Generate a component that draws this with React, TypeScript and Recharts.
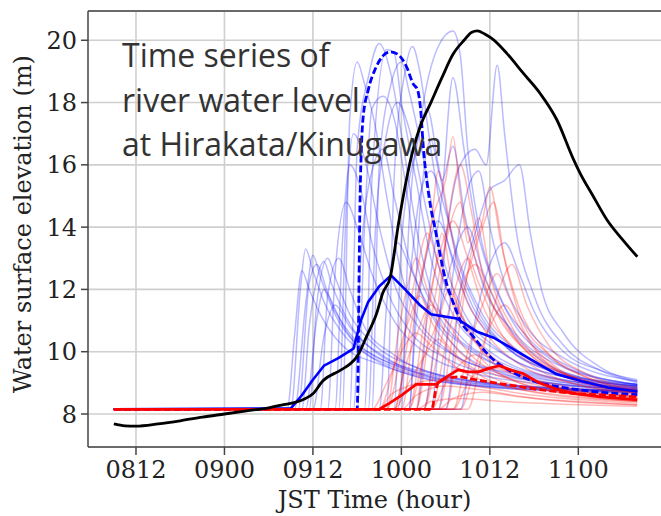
import React from 'react';
import { LineChart, Line, XAxis, YAxis, CartesianGrid, ReferenceLine } from 'recharts';

type Pt = [number, number];

// hours counted from 08 00:00 JST
const timeTicks = [12, 24, 36, 48, 60, 72];
const timeLabels = ['0812', '0900', '0912', '1000', '1012', '1100'];
const levelTicks = [8, 10, 12, 14, 16, 18, 20];

const observed: Pt[] = [
  [9, 7.68], [10.5, 7.62], [12, 7.61], [15, 7.68], [18, 7.78], [21, 7.9], [24, 8.0], [27, 8.1],
  [30, 8.2], [32, 8.3], [34, 8.4], [35, 8.5], [36, 8.65], [37.3, 9.05], [39.7, 9.4], [41, 9.6],
  [42, 9.85], [43.3, 10.5], [44.6, 11.2], [45.5, 11.9], [46.5, 12.4], [47.6, 14.1], [49.6, 16.5],
  [50.5, 17.2], [52, 18.0], [53.5, 18.8], [55, 19.55], [56.5, 20.0], [57.5, 20.25], [58.3, 20.3],
  [59.3, 20.2], [60.3, 20.05], [62.3, 19.58], [64.5, 18.95], [66.8, 18.3], [69.1, 17.44],
  [71.3, 16.2], [72.2, 15.75], [74, 15.0], [75.9, 14.23], [78, 13.6], [80, 13.05],
];

const blueMean: Pt[] = [
  [9, 8.15], [33, 8.18], [34.5, 8.6], [36, 9.1], [37.5, 9.55], [39.5, 9.8], [41.5, 10.1],
  [42.5, 11.0], [43.5, 11.6], [45, 12.1], [46.6, 12.45], [48.5, 12.0], [50.5, 11.5], [52, 11.2],
  [55.5, 11.07], [58.2, 10.65], [60.5, 10.45], [62.5, 10.18], [64.5, 9.9], [67, 9.55],
  [69, 9.28], [72.5, 9.05], [76, 8.85], [80, 8.72],
];

const blueDashed: Pt[] = [
  [9, 8.15], [42, 8.15], [42.4, 15.0], [42.8, 17.5], [43.5, 18.4], [44.5, 19.1], [45.5, 19.5],
  [46.5, 19.63], [47.5, 19.55], [48.7, 19.15], [49.6, 18.6], [50.2, 18.4], [50.6, 17.8],
  [51, 16.5], [51.8, 14.9], [52.7, 13.8], [54, 12.3], [55, 11.6], [56, 11.0], [57.7, 10.5],
  [60, 9.85], [63, 9.35], [66, 9.05], [70, 8.85], [75, 8.7], [80, 8.62],
];

const redMean: Pt[] = [
  [9, 8.15], [45, 8.15], [46.4, 8.35], [48, 8.6], [50, 8.95], [52.7, 8.95], [53.6, 9.1],
  [54.5, 9.25], [55.7, 9.42], [57, 9.35], [58.5, 9.35], [60, 9.47], [61.3, 9.55], [63, 9.4],
  [64.5, 9.3], [66.7, 9.0], [69, 8.8], [71.3, 8.66], [75, 8.55], [80, 8.45],
];

const redDashed: Pt[] = [
  [9, 8.15], [52.2, 8.15], [52.6, 8.7], [53, 9.05], [54, 9.15], [56, 9.2], [58, 9.1],
  [62, 8.95], [66.7, 8.78], [72, 8.65], [80, 8.55],
];

const blueMembers: Pt[][] = [
  [[9, 8.15], [33, 8.15], [34.3, 12.0], [35, 13.3], [36, 12.6], [37.5, 11.6], [40, 10.6], [44, 9.8], [50, 9.2], [58, 8.9], [68, 8.75], [80, 8.68]],
  [[9, 8.15], [33.5, 8.15], [35, 11.5], [36, 13.1], [37, 12.4], [39, 11.2], [42, 10.2], [47, 9.5], [54, 9.05], [64, 8.8], [80, 8.7]],
  [[9, 8.15], [34, 8.15], [35.5, 12.2], [36.5, 12.8], [38, 11.9], [41, 10.5], [45, 9.8], [52, 9.2], [62, 8.9], [80, 8.72]],
  [[9, 8.15], [35, 8.15], [36.5, 11.0], [37.5, 12.0], [39, 11.3], [42, 10.3], [48, 9.5], [56, 9.0], [68, 8.8], [80, 8.73]],
  [[9, 8.15], [36, 8.15], [37.5, 10.5], [39, 11.5], [41, 10.8], [45, 9.9], [52, 9.3], [62, 8.95], [80, 8.75]],
  [[9, 8.15], [32.5, 8.15], [33.5, 10.5], [34.5, 12.6], [35.5, 12.0], [37, 11.2], [40, 10.2], [45, 9.6], [52, 9.1], [62, 8.85], [80, 8.7]],
  [[9, 8.15], [34.5, 8.15], [35.5, 10.8], [36.5, 12.3], [37.5, 12.9], [38.5, 12.2], [41, 10.9], [46, 9.8], [54, 9.15], [66, 8.85], [80, 8.74]],
  [[9, 8.15], [35.5, 8.15], [36.5, 11.5], [38, 13.0], [39, 12.4], [41, 11.2], [44, 10.3], [50, 9.5], [58, 9.05], [70, 8.82], [80, 8.76]],
  [[9, 8.15], [37, 8.15], [38, 11.8], [39.5, 13.0], [41, 12.0], [43, 10.8], [47, 9.9], [54, 9.2], [64, 8.9], [80, 8.74]],
  [[9, 8.15], [38, 8.15], [39, 12.5], [40.5, 14.8], [42, 14.0], [44, 12.5], [47, 11.0], [51, 10.0], [58, 9.3], [68, 8.95], [80, 8.78]],
  [[9, 8.15], [39, 8.15], [40, 13.5], [41, 16.0], [42.5, 15.2], [44, 13.5], [46, 12.0], [49, 10.7], [54, 9.8], [62, 9.2], [80, 8.8]],
  [[9, 8.15], [39.5, 8.15], [40.5, 14.5], [41.5, 17.0], [43, 16.2], [45, 14.0], [47, 12.2], [50, 10.9], [55, 9.9], [63, 9.3], [80, 8.82]],
  [[9, 8.15], [40, 8.15], [41, 17.5], [42, 19.3], [43, 18.6], [44.5, 17.2], [46, 15.0], [48, 12.5], [50, 11.2], [54, 10.1], [60, 9.4], [68, 9.0], [80, 8.78]],
  [[9, 8.15], [41, 8.15], [42, 16.5], [43.5, 18.8], [45, 19.9], [46.5, 19.0], [48, 17.0], [50, 14.0], [52, 12.0], [56, 10.5], [62, 9.6], [70, 9.1], [80, 8.85]],
  [[9, 8.15], [41.5, 8.15], [42.5, 13.0], [44, 15.8], [45.5, 16.5], [47, 15.0], [49, 13.0], [52, 11.3], [57, 10.1], [65, 9.3], [80, 8.85]],
  [[9, 8.15], [42, 8.15], [43, 14.0], [44, 17.8], [45.5, 18.2], [47, 17.5], [48.5, 15.5], [50, 13.0], [53, 11.2], [58, 10.0], [66, 9.2], [80, 8.8]],
  [[9, 8.15], [43, 8.15], [44, 15.5], [46, 19.7], [47, 19.6], [48, 18.0], [50, 15.5], [52, 13.0], [55, 11.2], [60, 10.0], [68, 9.2], [80, 8.85]],
  [[9, 8.15], [43.5, 8.15], [44.5, 14.0], [46, 17.0], [47.5, 18.0], [49, 17.2], [51, 15.0], [53, 12.8], [56, 11.2], [62, 9.9], [72, 9.1], [80, 8.9]],
  [[9, 8.15], [44, 8.15], [45, 16.0], [46.5, 18.5], [48, 19.3], [49, 18.4], [51, 16.2], [53, 13.6], [56, 11.5], [61, 10.1], [70, 9.2], [80, 8.9]],
  [[9, 8.15], [45, 8.15], [46, 11.5], [47.5, 13.5], [49, 12.8], [52, 11.2], [56, 10.0], [62, 9.3], [70, 8.95], [80, 8.8]],
  [[9, 8.15], [46, 8.15], [47, 15.5], [48.5, 19.0], [49.5, 19.8], [50.5, 19.0], [52, 16.5], [54, 13.8], [57, 11.6], [62, 10.2], [70, 9.3], [80, 8.9]],
  [[9, 8.15], [47, 8.15], [48, 13.5], [50, 16.5], [51.5, 17.8], [53, 16.0], [55, 13.5], [58, 11.5], [62, 10.2], [68, 9.4], [80, 8.9]],
  [[9, 8.15], [47.5, 8.15], [49, 12.0], [50.5, 15.0], [52, 15.8], [54, 14.5], [56, 12.8], [59, 11.2], [64, 10.0], [72, 9.2], [80, 8.95]],
  [[9, 8.15], [48, 8.15], [49, 14.0], [51, 18.0], [53, 19.8], [55, 20.3], [56, 19.5], [57, 16.5], [58.5, 14.0], [61, 12.0], [65, 10.5], [71, 9.5], [80, 8.95]],
  [[9, 8.15], [49, 8.15], [50, 11.0], [51.5, 13.2], [53, 14.2], [55, 13.0], [58, 11.3], [62, 10.2], [68, 9.4], [80, 8.95]],
  [[9, 8.15], [49, 8.15], [50.5, 14.5], [52, 16.8], [53.5, 15.5], [55, 16.6], [56.5, 14.5], [59, 12.2], [63, 10.7], [69, 9.6], [80, 8.95]],
  [[9, 8.15], [50, 8.15], [52, 12.5], [53.5, 15.0], [55, 18.8], [56.5, 16.5], [58, 14.2], [60, 12.5], [63, 11.0], [68, 9.8], [74, 9.2], [80, 8.95]],
  [[9, 8.15], [51, 8.15], [53, 11.0], [55, 13.0], [57, 14.0], [59, 12.6], [62, 11.0], [66, 9.9], [72, 9.2], [80, 8.9]],
  [[9, 8.15], [52, 8.15], [54, 13.5], [56, 16.0], [58, 16.5], [59.5, 16.0], [61, 19.2], [62, 17.0], [63.5, 14.0], [66, 11.8], [70, 10.2], [75, 9.4], [80, 9.0]],
  [[9, 8.15], [53, 8.15], [55, 12.5], [57, 15.2], [58.5, 15.8], [60, 14.0], [62, 12.2], [65, 10.8], [70, 9.8], [80, 9.05]],
  [[9, 8.15], [54, 8.15], [56, 12.0], [58, 13.8], [60, 15.2], [62, 15.5], [64, 16.0], [65.5, 13.8], [67, 12.0], [70, 10.6], [75, 9.5], [80, 9.05]],
  [[9, 8.15], [56, 8.15], [58, 11.0], [60, 12.8], [62, 13.5], [64, 12.5], [66, 11.3], [70, 10.0], [75, 9.4], [80, 9.1]],
];

const redMembers: Pt[][] = [
  [[9, 8.15], [44, 8.15], [46, 9.0], [48, 10.0], [50, 10.6], [52, 10.2], [56, 9.4], [62, 8.9], [72, 8.55], [80, 8.4]],
  [[9, 8.15], [45, 8.15], [47, 9.5], [49, 11.0], [50.5, 11.8], [52, 11.0], [55, 10.0], [60, 9.2], [68, 8.75], [80, 8.5]],
  [[9, 8.15], [45, 8.15], [46.5, 8.6], [49, 8.9], [53, 9.1], [58, 8.9], [66, 8.6], [80, 8.35]],
  [[9, 8.15], [46, 8.15], [48, 10.0], [50, 12.5], [51.5, 13.8], [53, 12.8], [55, 11.5], [58, 10.3], [63, 9.4], [70, 8.9], [80, 8.6]],
  [[9, 8.15], [46, 8.15], [47.5, 10.5], [49, 12.3], [50, 13.0], [51.5, 12.0], [54, 10.6], [58, 9.6], [65, 9.0], [80, 8.55]],
  [[9, 8.15], [47, 8.15], [49, 10.5], [51, 12.8], [52.5, 14.5], [54, 15.5], [55, 16.9], [56, 15.0], [58, 13.0], [61, 11.2], [65, 10.0], [71, 9.2], [80, 8.75]],
  [[9, 8.15], [47, 8.15], [49, 9.0], [51, 9.8], [53, 10.4], [55, 9.9], [59, 9.2], [66, 8.7], [80, 8.4]],
  [[9, 8.15], [47, 8.15], [48.5, 9.5], [50, 10.5], [52, 11.5], [54, 11.0], [57, 10.0], [62, 9.2], [70, 8.7], [80, 8.5]],
  [[9, 8.15], [48, 8.15], [50, 11.5], [52, 14.0], [53, 15.8], [54.5, 14.2], [56, 12.3], [59, 10.8], [64, 9.6], [71, 9.0], [80, 8.65]],
  [[9, 8.15], [48, 8.15], [50, 8.6], [54, 8.9], [58, 8.8], [66, 8.5], [80, 8.3]],
  [[9, 8.15], [49, 8.15], [51, 9.8], [53, 11.0], [54.5, 12.0], [56, 11.2], [59, 10.0], [64, 9.2], [72, 8.75], [80, 8.55]],
  [[9, 8.15], [49, 8.15], [51, 10.8], [53, 13.0], [55, 14.2], [57, 13.0], [59, 11.5], [63, 10.2], [69, 9.3], [80, 8.7]],
  [[9, 8.15], [50, 8.15], [51, 10.2], [52.5, 12.5], [53.5, 13.8], [55, 12.0], [57, 10.8], [61, 9.7], [67, 9.0], [80, 8.55]],
  [[9, 8.15], [50, 8.15], [52, 11.0], [54, 13.5], [56, 14.8], [57, 13.5], [58.5, 14.3], [60, 12.5], [63, 10.8], [68, 9.6], [74, 9.0], [80, 8.7]],
  [[9, 8.15], [50, 8.15], [52, 8.4], [56, 8.5], [62, 8.4], [80, 8.25]],
  [[9, 8.15], [51, 8.15], [53, 10.0], [55, 11.8], [57, 13.0], [58.5, 12.2], [61, 10.8], [65, 9.7], [71, 9.0], [80, 8.65]],
  [[9, 8.15], [51, 8.15], [53, 11.5], [54.5, 14.5], [56, 16.0], [57.5, 14.5], [59, 12.5], [62, 10.9], [67, 9.7], [74, 9.0], [80, 8.75]],
  [[9, 8.15], [52, 8.15], [54, 9.0], [56, 9.6], [58, 9.9], [60, 9.5], [64, 9.0], [72, 8.6], [80, 8.4]],
  [[9, 8.15], [52, 8.15], [54, 10.2], [56, 12.0], [58, 12.8], [60, 12.0], [63, 10.6], [67, 9.6], [74, 8.95], [80, 8.7]],
  [[9, 8.15], [53, 8.15], [55, 10.5], [57, 12.5], [59, 14.0], [60.5, 14.8], [62, 13.0], [64, 11.4], [67, 10.2], [72, 9.3], [80, 8.8]],
  [[9, 8.15], [53, 8.15], [55, 8.5], [59, 8.7], [64, 8.55], [80, 8.3]],
  [[9, 8.15], [54, 8.15], [56, 11.0], [57.5, 13.2], [59, 14.2], [60, 15.3], [61.5, 13.5], [64, 11.2], [68, 9.9], [74, 9.1], [80, 8.75]],
  [[9, 8.15], [55, 8.15], [57, 10.0], [59, 11.5], [61, 12.5], [62.5, 11.8], [65, 10.5], [69, 9.5], [75, 8.9], [80, 8.7]],
  [[9, 8.15], [55, 8.15], [57, 9.0], [60, 9.5], [63, 9.3], [70, 8.8], [80, 8.5]],
  [[9, 8.15], [56, 8.15], [58, 9.5], [60, 10.8], [62, 11.5], [64, 10.8], [67, 9.8], [72, 9.1], [80, 8.7]],
  [[9, 8.15], [57, 8.15], [59, 10.0], [61, 11.8], [63, 12.8], [65, 11.5], [68, 10.2], [73, 9.3], [80, 8.85]],
];

const toRows = (pts: Pt[]) => pts.map(([t, v]) => ({ t, v }));

const serif = 'DejaVu Serif';
const spine = '#444';
const gridColor = '#cfcfcf';

export default function App() {
  return (
    <div style={{ position: 'absolute', left: 0, top: 0, width: 661, height: 516, background: '#fff', overflow: 'hidden' }}>
      <LineChart width={661} height={516} margin={{ top: 11, right: -20, bottom: 19, left: 0 }}>
        <CartesianGrid stroke={gridColor} strokeWidth={1.6} vertical={false} />
        {timeTicks.map((t) => (
          <ReferenceLine key={`g${t}`} x={t} stroke={gridColor} strokeWidth={1.6} />
        ))}
        <XAxis
          type="number"
          dataKey="t"
          domain={[5.49, 85.93]}
          allowDataOverflow
          ticks={timeTicks}
          tickFormatter={(t: number) => timeLabels[timeTicks.indexOf(t)] ?? ''}
          height={50}
          tickSize={8}
          tickMargin={6}
          tick={{ fontFamily: serif, fontSize: 24, fill: '#222' }}
          axisLine={{ stroke: spine, strokeWidth: 1.5 }}
          tickLine={{ stroke: spine, strokeWidth: 1.5 }}
          label={{
            content: () => (
              <text x={374.5} y={508} textAnchor="middle" fontFamily={serif} fontSize={24} fill="#222">
                JST Time (hour)
              </text>
            ),
          }}
        />
        <YAxis
          type="number"
          domain={[6.94, 20.94]}
          allowDataOverflow
          ticks={levelTicks}
          width={88}
          tickSize={7}
          tickMargin={4}
          tick={{ fontFamily: serif, fontSize: 24, fill: '#222' }}
          axisLine={{ stroke: spine, strokeWidth: 1.5 }}
          tickLine={{ stroke: spine, strokeWidth: 1.5 }}
          label={{
            content: () => (
              <text
                x={31}
                y={224}
                transform="rotate(-90 31 224)"
                textAnchor="middle"
                fontFamily={serif}
                fontSize={24}
                fill="#222"
              >
                Water surface elevation (m)
              </text>
            ),
          }}
        />
        <ReferenceLine y={20.94} stroke={spine} strokeWidth={1.5} />

        {blueMembers.map((m, i) => (
          <Line
            key={`b${i}`}
            data={toRows(m)}
            dataKey="v"
            type="monotone"
            stroke="#0000ff"
            strokeOpacity={0.27}
            strokeWidth={1.5}
            dot={false}
            isAnimationActive={false}
          />
        ))}
        {redMembers.map((m, i) => (
          <Line
            key={`r${i}`}
            data={toRows(m)}
            dataKey="v"
            type="monotone"
            stroke="#ff0000"
            strokeOpacity={0.27}
            strokeWidth={1.5}
            dot={false}
            isAnimationActive={false}
          />
        ))}

        <Line data={toRows(blueMean)} dataKey="v" type="linear" stroke="#0000ff" strokeWidth={2.6} dot={false} isAnimationActive={false} />
        <Line data={toRows(blueDashed)} dataKey="v" type="monotone" stroke="#0000ff" strokeWidth={2.8} strokeDasharray="7 3" dot={false} isAnimationActive={false} />
        <Line data={toRows(redMean)} dataKey="v" type="linear" stroke="#ff0000" strokeWidth={2.8} dot={false} isAnimationActive={false} />
        <Line data={toRows(redDashed)} dataKey="v" type="linear" stroke="#ff0000" strokeWidth={2.8} strokeDasharray="7 3" dot={false} isAnimationActive={false} />
        <Line data={toRows(observed)} dataKey="v" type="monotone" stroke="#000" strokeWidth={2.8} dot={false} isAnimationActive={false} />
      </LineChart>
      <div
        style={{
          position: 'absolute',
          left: 122,
          top: 33,
          fontFamily: 'Open Sans',
          fontSize: 32,
          lineHeight: '44.5px',
          color: '#333',
          whiteSpace: 'nowrap',
          pointerEvents: 'none',
        }}
      >
        Time series of
        <br />
        river water level
        <br />
        at Hirakata/Kinugawa
      </div>
    </div>
  );
}
